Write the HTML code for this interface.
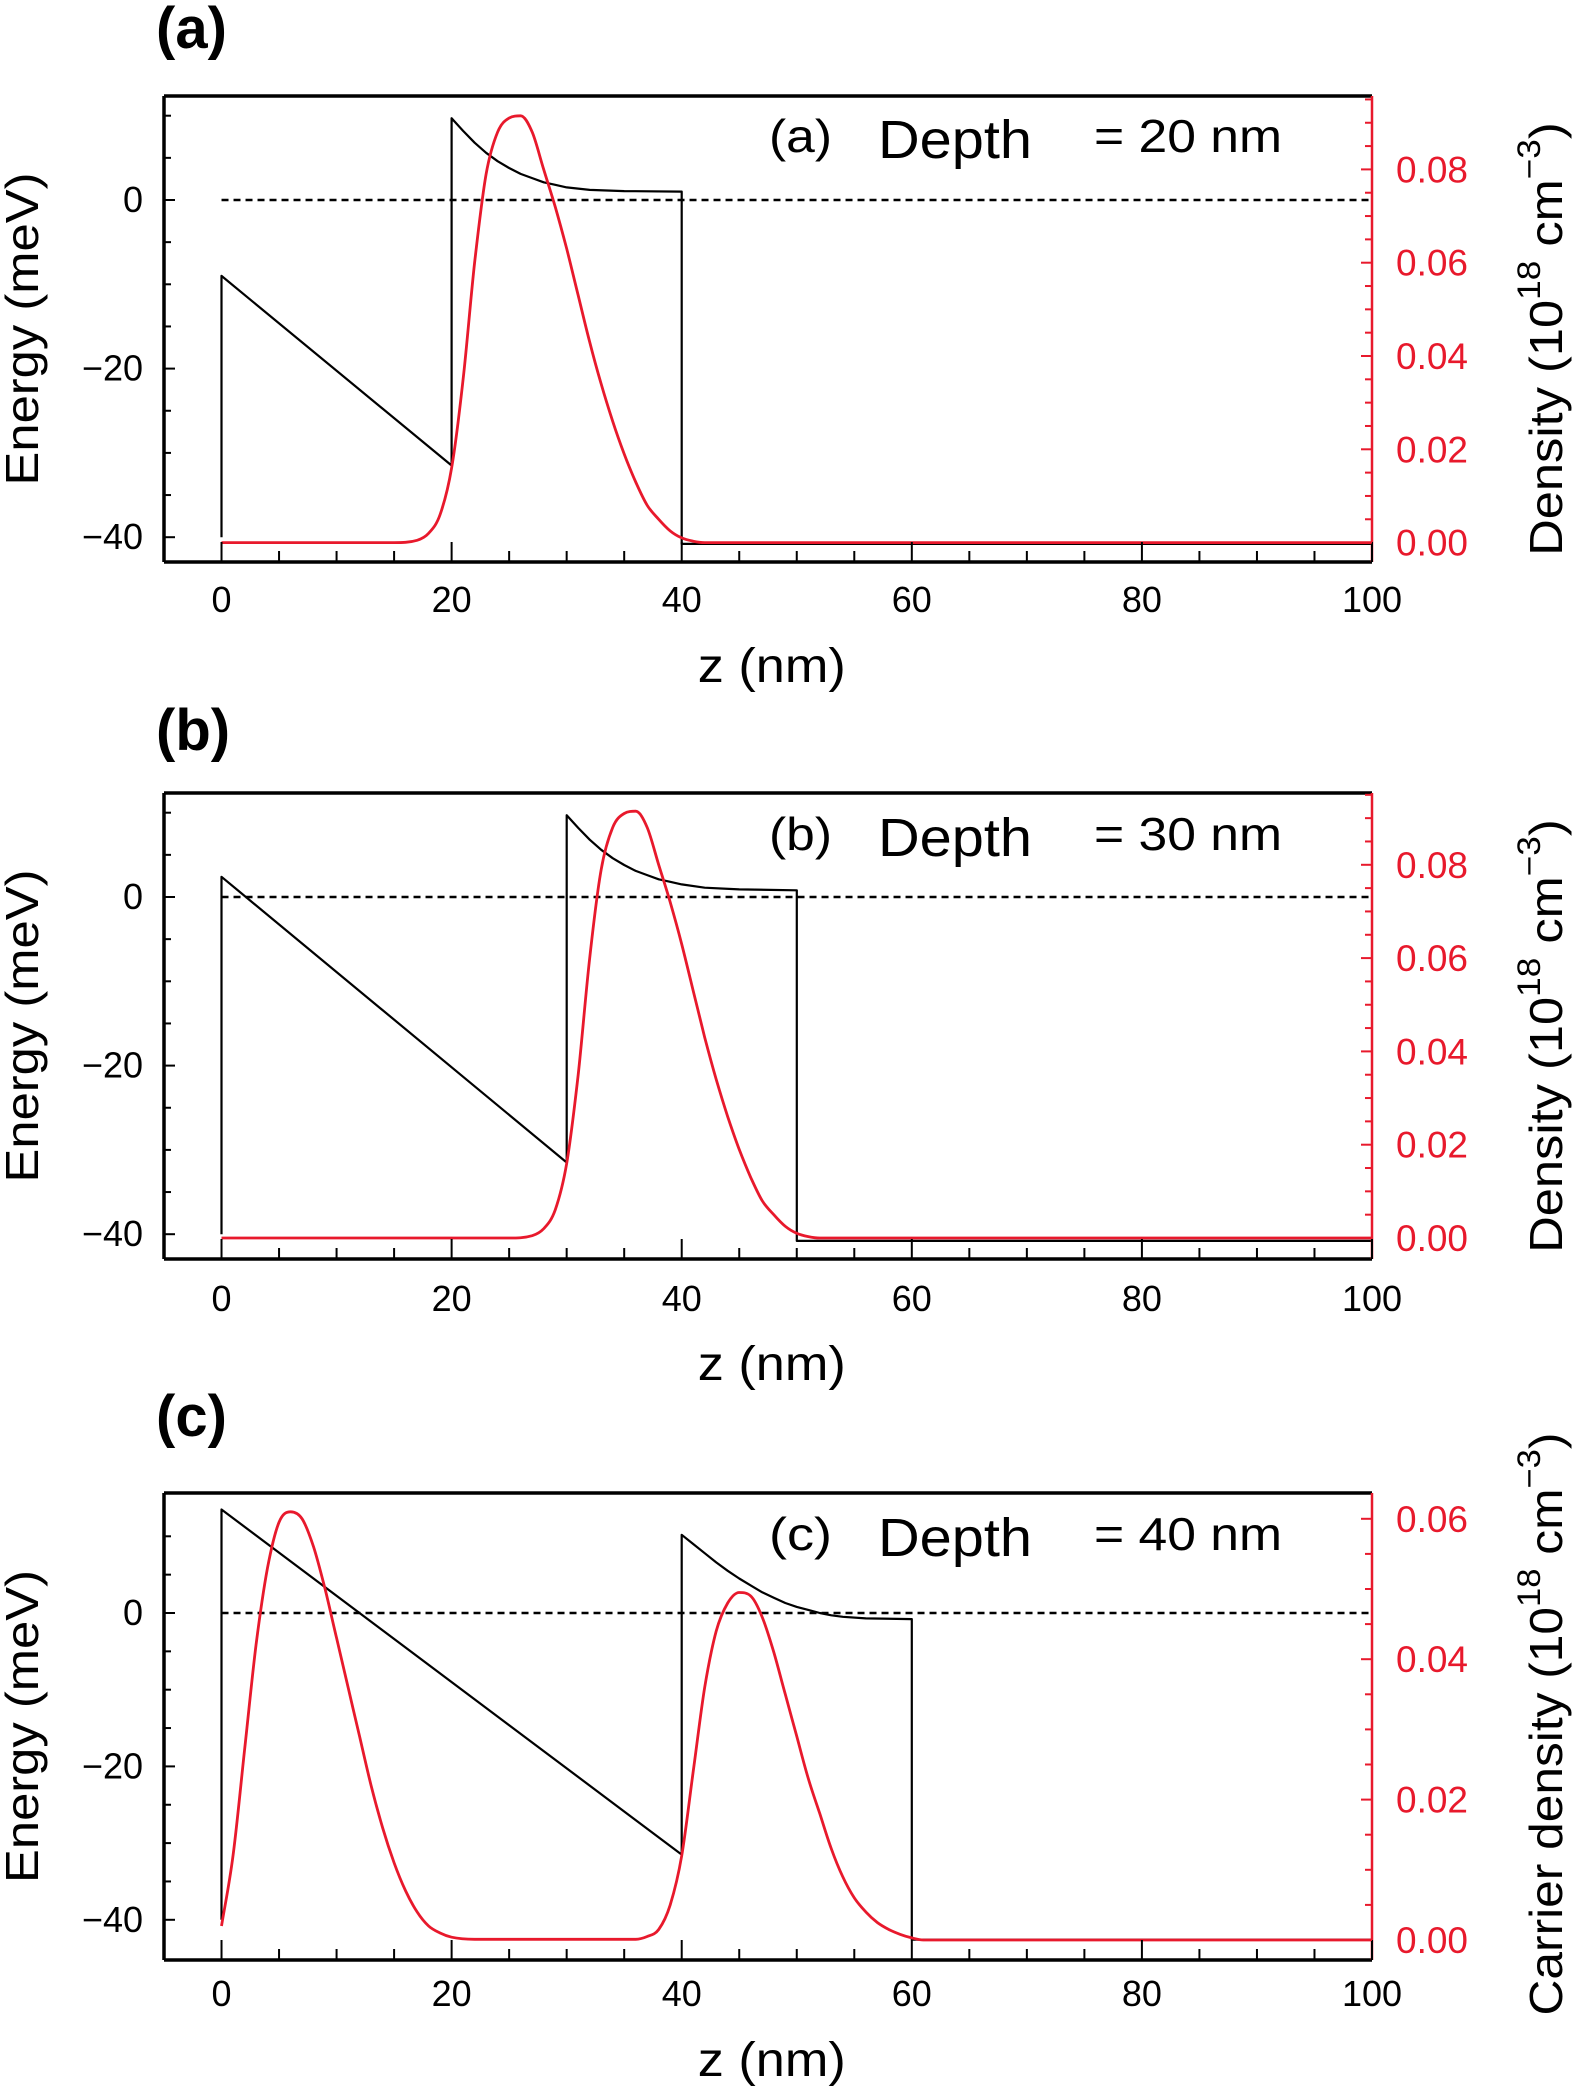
<!DOCTYPE html>
<html><head><meta charset="utf-8"><style>
html,body{margin:0;padding:0;background:#fff}
svg{display:block}
text{font-family:"Liberation Sans",Arial,sans-serif}
</style></head><body>
<svg id="fig" width="1575" height="2090" viewBox="0 0 1575 2090" xmlns="http://www.w3.org/2000/svg"></svg>
<script>
// ---- data ----
const xTicks = [0,20,40,60,80,100];
const yTicksE = [0,-20,-40];
const yTicksDab = ["0.00","0.02","0.04","0.06","0.08"];
const yTicksDc = ["0.00","0.02","0.04","0.06"];
// panel a
const potAz = [0,0,20,20,21,22,23,24,25,26,27,28,29,30,32,35,40,40,100];
const potAe = [-40,-9,-31.5,9.7,8.2,6.8,5.6,4.6,3.8,3.1,2.6,2.1,1.8,1.5,1.2,1.05,1.0,-40.8,-40.8];
const denAz = [0,15,17,18,19,20,21,22,23,24,25,26,27,28,29,30,31,32,33,34,35,36,37,38,39,40,41,42,100];
const denAv = [0,0,0.0005,0.002,0.006,0.016,0.035,0.060,0.079,0.088,0.091,0.0915,0.088,0.080,0.072,0.063,0.053,0.043,0.034,0.026,0.019,0.013,0.008,0.005,0.0025,0.001,0.0003,0,0];
// panel b
const potBz = [0,0,30,30,31,32,33,34,35,36,37,38,39,40,42,45,50,50,100];
const potBe = [-40,2.4,-31.5,9.7,8.2,6.8,5.6,4.6,3.8,3.1,2.6,2.1,1.8,1.5,1.1,0.9,0.8,-40.8,-40.8];
const denBz = [0,25,27,28,29,30,31,32,33,34,35,36,37,38,39,40,41,42,43,44,45,46,47,48,49,50,51,52,100];
const denBv = [0,0,0.0005,0.002,0.006,0.016,0.035,0.060,0.079,0.088,0.091,0.0915,0.088,0.080,0.072,0.063,0.053,0.043,0.034,0.026,0.019,0.013,0.008,0.005,0.0025,0.001,0.0003,0,0];
// panel c
const potCz = [0,0,40,40,41,42,43,44,45,46,47,48,49,50,51,52,53,54,56,60,60,100];
const potCe = [-40,13.5,-31.5,10.2,9,7.8,6.6,5.5,4.5,3.6,2.7,2.0,1.3,0.8,0.4,0,-0.3,-0.5,-0.7,-0.8,-42.6,-42.6];
const denCz = [0,1,2,3,4,5,6,7,8,9,10,11,12,13,14,15,16,17,18,19,20,22,36,37,38,39,40,41,42,43,44,45,46,47,48,49,50,51,52,53,54,55,56,57,58,59,60,61,100];
const denCv = [0.002,0.012,0.027,0.042,0.053,0.0595,0.061,0.060,0.056,0.050,0.043,0.036,0.029,0.022,0.016,0.011,0.007,0.004,0.002,0.001,0.0004,0.0001,0.0001,0.0005,0.0015,0.005,0.012,0.024,0.036,0.044,0.048,0.0495,0.049,0.046,0.041,0.035,0.029,0.023,0.018,0.013,0.009,0.006,0.004,0.0025,0.0015,0.0008,0.0003,0,0];

const NS="http://www.w3.org/2000/svg";
const svg=document.getElementById('fig');
function el(tag,attrs,parent,text){const e=document.createElementNS(NS,tag);for(const k in attrs)e.setAttribute(k,attrs[k]);if(text!==undefined)e.textContent=text;(parent||svg).appendChild(e);return e;}

function smoothPath(X,Y){
  const n=X.length;const d=[],m=new Array(n);
  for(let i=0;i<n-1;i++)d.push((Y[i+1]-Y[i])/(X[i+1]-X[i]));
  m[0]=d[0];m[n-1]=d[n-2];
  for(let i=1;i<n-1;i++){m[i]=(d[i-1]*d[i]<=0)?0:(d[i-1]+d[i])/2;}
  for(let i=0;i<n-1;i++){if(d[i]===0){m[i]=0;m[i+1]=0;continue;}const a=m[i]/d[i],b=m[i+1]/d[i],s=a*a+b*b;if(s>9){const t=3/Math.sqrt(s);m[i]=t*a*d[i];m[i+1]=t*b*d[i];}}
  let p='M'+X[0].toFixed(1)+','+Y[0].toFixed(1);
  for(let i=0;i<n-1;i++){const h=(X[i+1]-X[i])/3;
    p+='C'+(X[i]+h).toFixed(1)+','+(Y[i]+m[i]*h).toFixed(1)+' '+(X[i+1]-h).toFixed(1)+','+(Y[i+1]-m[i+1]*h).toFixed(1)+' '+X[i+1].toFixed(1)+','+Y[i+1].toFixed(1);}
  return p;
}

function panel(o){
  const g=el('g',{});
  
  
  const L=164,R=1372,T=o.top,B=o.bottom;
  const xs=z=>L+(z+5)/105*(R-L);
  const ye=e=>o.e0+(-e)*o.eScale;
  const yd=d=>o.d0-d*o.dScale;
  const lab=el('text',{x:156,y:o.labY,'font-size':58,'font-weight':'bold'},g,'('+o.id+')');
  
  
  const dl=el('line',{x1:xs(0),x2:xs(100),y1:ye(0),y2:ye(0),stroke:'#000','stroke-width':2.4,'stroke-dasharray':'7,5'},g);
  
  
  let d='';o.pz.forEach((z,i)=>{d+=(i?'L':'M')+xs(z).toFixed(1)+','+ye(o.pe[i]).toFixed(1);});
  const pp=el('path',{d:d,fill:'none',stroke:'#000','stroke-width':2.2,'stroke-linejoin':'round'},g);
  
  
  const dp=el('path',{d:smoothPath(o.dz.map(xs),o.dv.map(yd)),fill:'none',stroke:'#e8192c','stroke-width':2.8,'stroke-linejoin':'round'},g);
  
  
  el('line',{x1:L,x2:R,y1:T,y2:T,stroke:'#000','stroke-width':3.5},g);
  el('line',{x1:L,x2:R,y1:B,y2:B,stroke:'#000','stroke-width':3.5},g);
  el('line',{x1:L,x2:L,y1:T,y2:B,stroke:'#000','stroke-width':3.5},g);
  const rs=el('line',{x1:R,x2:R,y1:T,y2:B,stroke:'#e8192c','stroke-width':2.5},g);
  
  
  for(let z=0;z<=100;z+=5){const maj=z%20===0;el('line',{x1:xs(z),x2:xs(z),y1:B,y2:B-(maj?20:11),stroke:'#000','stroke-width':2},g);}
  xTicks.forEach(v=>{const t=el('text',{x:xs(v),y:o.xLabY,'font-size':36,'text-anchor':'middle'},g,String(v));
    });
  const xt=el('text',{x:(xs(0)+xs(100))/2-25,y:o.xTitleY,'font-size':48,'text-anchor':'middle',textLength:148,lengthAdjust:'spacingAndGlyphs'},g,'z (nm)');
  
  
  for(let e=10;e>=-40;e-=5){const y=ye(e);if(y<T||y>B)continue;const maj=e%20===0;el('line',{x1:L,x2:L+(maj?11:7),y1:y,y2:y,stroke:'#000','stroke-width':2},g);}
  yTicksE.forEach(v=>{const t=el('text',{x:143,y:ye(v)+12,'font-size':36,'text-anchor':'end'},g,v<0?'\u2212'+(-v):String(v));
    });
  const yt=el('text',{x:0,y:0,'font-size':46,'text-anchor':'middle',textLength:313,lengthAdjust:'spacingAndGlyphs',transform:`translate(38,${(T+B)/2}) rotate(-90)`},g,'Energy (meV)');
  
  
  const nMinor=Math.floor((o.d0-T)/(o.dScale*0.005));
  for(let k=0;k<=nMinor;k++){const y=yd(k*0.005);const maj=k%4===0;el('line',{x1:R,x2:R-(maj?11:7),y1:y,y2:y,stroke:'#e8192c','stroke-width':2},g);}
  o.rt.forEach(s=>{const t=el('text',{x:1396,y:yd(parseFloat(s))+13,'font-size':37,fill:'#e8192c'},g,s);
    });
  const rt=el('text',{x:0,y:0,'font-size':46,'text-anchor':'middle',transform:`translate(1562,${o.rtY}) rotate(-90) scale(${o.rtSx},1)`},g);
  
  
  el('tspan',{},rt,o.rtName+' (10');
  el('tspan',{dy:-22,'font-size':32},rt,'18');
  el('tspan',{dy:22},rt,' cm');
  el('tspan',{dy:-22,'font-size':32},rt,'\u22123');
  el('tspan',{dy:22},rt,')');
  const an=el('g',{},g);
  
  
  el('text',{x:769,y:o.annY,'font-size':46,textLength:63,lengthAdjust:'spacingAndGlyphs'},an,'('+o.id+')');
  el('text',{x:878,y:o.annY+6,'font-size':54,textLength:154,lengthAdjust:'spacingAndGlyphs'},an,'Depth');
  el('text',{x:1094,y:o.annY,'font-size':46,textLength:188,lengthAdjust:'spacingAndGlyphs'},an,'= '+o.depth+' nm');
}
panel({id:'a',top:96,bottom:562,e0:200,eScale:8.43,d0:542.6,dScale:4665,labY:48,xLabY:612,xTitleY:682,rt:yTicksDab,rtName:'Density',rtY:339,rtSx:1.1,annY:152,depth:20,pz:potAz,pe:potAe,dz:denAz,dv:denAv});
panel({id:'b',top:793,bottom:1259,e0:897,eScale:8.43,d0:1238,dScale:4665,labY:750,xLabY:1311,xTitleY:1380,rt:yTicksDab,rtName:'Density',rtY:1036,rtSx:1.1,annY:850,depth:30,pz:potBz,pe:potBe,dz:denBz,dv:denBv});
panel({id:'c',top:1493,bottom:1960,e0:1613,eScale:7.67,d0:1940,dScale:7020,labY:1436,xLabY:2006,xTitleY:2076,rt:yTicksDc,rtName:'Carrier density',rtY:1724,rtSx:1.08,annY:1550,depth:40,pz:potCz,pe:potCe,dz:denCz,dv:denCv});
</script>
</body></html>
